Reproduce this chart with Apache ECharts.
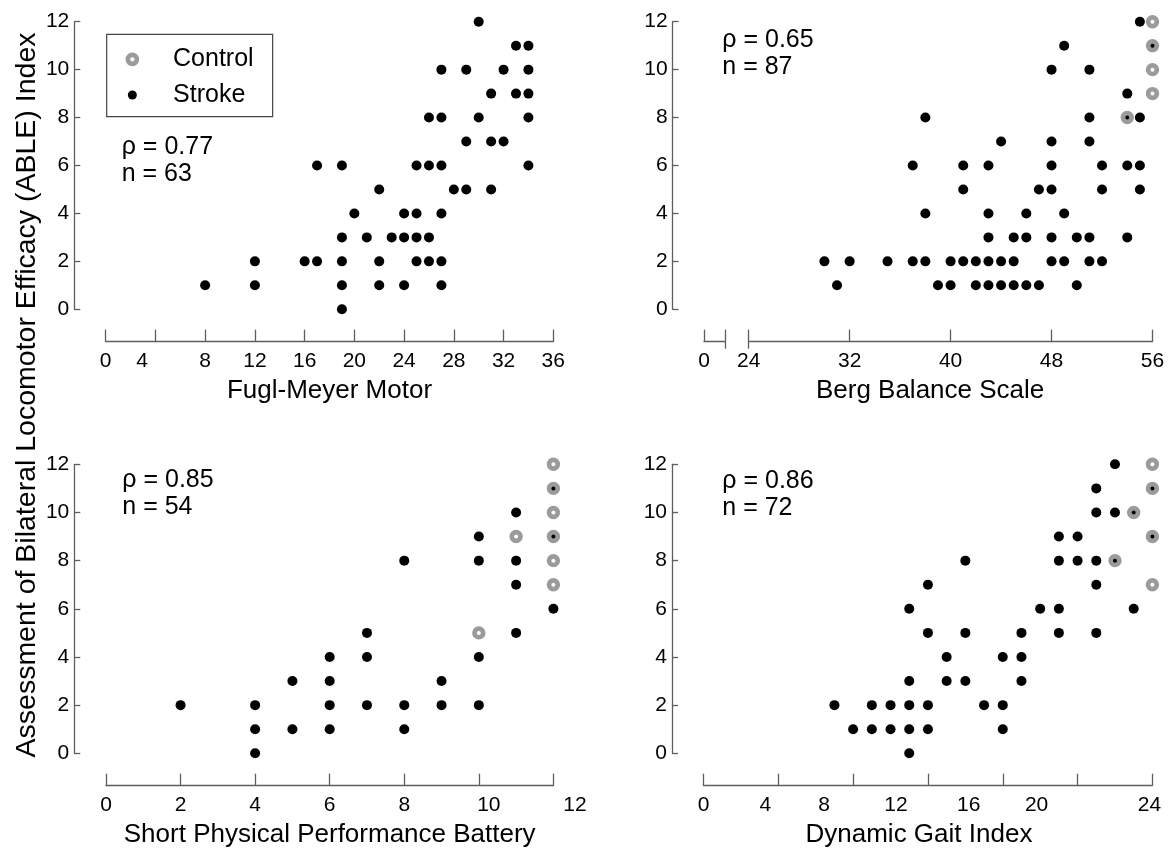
<!DOCTYPE html>
<html>
<head>
<meta charset="utf-8">
<script src="https://cdn.jsdelivr.net/npm/echarts@6/dist/echarts.min.js"></script>
<style>
html, body { margin: 0; padding: 0; background: #fff; }
#chart { width: 1171px; height: 853px; }
</style>
</head>
<body>
<div id="chart"></div>
<script>
// ---- data ----
var fuglMeyerStroke = [
    [8,1],[12,1],[12,2],[16,2],[17,2],[17,6],[19,0],[19,1],[19,2],[19,3],[19,6],[20,4],[21,3],
    [22,1],[22,2],[22,5],[23,3],[24,1],[24,3],[24,4],[25,2],[25,3],[25,4],[25,6],[26,2],[26,3],
    [26,6],[26,8],[27,1],[27,2],[27,4],[27,6],[27,8],[27,10],[28,5],[29,5],[29,7],[29,10],[30,8],
    [30,12],[31,5],[31,7],[31,9],[32,7],[32,10],[33,9],[33,11],[34,6],[34,8],[34,9],[34,10],[34,11]
];
var bergStroke = [
    [30,2],[31,1],[32,2],[35,2],[37,2],[37,6],[38,2],[38,4],[38,8],[39,1],[40,1],[40,2],
    [41,2],[41,5],[41,6],[42,1],[42,2],[43,1],[43,2],[43,3],[43,4],[43,6],[44,1],[44,2],[44,7],
    [45,1],[45,2],[45,3],[46,1],[46,3],[46,4],[47,1],[47,5],[48,2],[48,3],[48,5],[48,6],[48,7],
    [48,10],[49,2],[49,4],[49,11],[50,1],[50,3],[51,2],[51,3],[51,7],[51,8],[51,10],[52,2],[52,5],
    [52,6],[54,3],[54,6],[54,8],[54,9],[55,5],[55,6],[55,8],[55,12],[56,11]
];
var bergControl = [[54,8],[56,9],[56,10],[56,11],[56,12]];
var sppbStroke = [
    [2,2],[4,0],[4,1],[4,2],[5,1],[5,3],[6,1],[6,2],[6,3],[6,4],[7,2],[7,4],[7,5],[8,1],[8,2],[8,8],
    [9,2],[9,3],[10,2],[10,4],[10,8],[10,9],[11,5],[11,7],[11,8],[11,10],[12,6],[12,9],[12,11]
];
var sppbControl = [[10,5],[11,9],[12,7],[12,8],[12,9],[12,10],[12,11],[12,12]];
var dgiStroke = [
    [7,2],[8,1],[9,1],[9,2],[10,1],[10,2],[11,0],[11,1],[11,2],[11,3],[11,6],[12,1],[12,2],[12,5],
    [12,7],[13,3],[13,4],[14,3],[14,5],[14,8],[15,2],[16,1],[16,2],[16,4],[17,3],[17,4],[17,5],
    [18,6],[19,5],[19,6],[19,8],[19,9],[20,8],[20,9],[21,5],[21,7],[21,8],[21,10],[21,11],
    [22,8],[22,10],[22,12],[23,6],[23,10],[24,9],[24,11]
];
var dgiControl = [[22,8],[23,10],[24,7],[24,9],[24,11],[24,12]];
var rhoValues = ['0.77', '0.65', '0.85', '0.86'];
var nValues = [63, 87, 54, 72];
var axisTitles = ['Fugl-Meyer Motor', 'Berg Balance Scale', 'Short Physical Performance Battery', 'Dynamic Gait Index'];
var yTitle = 'Assessment of Bilateral Locomotor Efficacy (ABLE) Index';

// ---- styling helpers ----
var FONT = 'Liberation Sans, Arial, sans-serif';
var AXIS_GRAY = '#5e5e5e';

function shiftedLabels(shifts) {
    var rich = {};
    Object.keys(shifts).forEach(function (k) {
        var s = shifts[k];
        rich['s' + k] = {
            fontSize: 21, fontFamily: FONT, color: '#000',
            padding: s < 0 ? [0, -2 * s, 0, 0] : [0, 0, 0, 2 * s]
        };
    });
    return {
        rich: rich,
        formatter: function (v) {
            return shifts[v] !== undefined ? '{s' + v + '|' + v + '}' : String(v);
        }
    };
}

function makeX(gridIndex, min, max, interval, name, shifts, namePad) {
    var lab = shiftedLabels(shifts || {});
    return {
        type: 'value', gridIndex: gridIndex, min: min, max: max, interval: interval,
        position: 'bottom', offset: 32.4,
        name: name, nameLocation: 'middle', nameGap: 36,
        nameTextStyle: { fontSize: 26, fontFamily: FONT, color: '#000', padding: namePad || 0 },
        axisLine: { show: true, onZero: false, lineStyle: { color: AXIS_GRAY, width: 1.3 } },
        axisTick: { show: true, inside: true, length: 12, lineStyle: { color: AXIS_GRAY, width: 1.3 } },
        axisLabel: {
            fontSize: 21, fontFamily: FONT, color: '#000', margin: 9,
            showMinLabel: true, showMaxLabel: true,
            formatter: lab.formatter, rich: lab.rich
        },
        splitLine: { show: false }
    };
}

function makeY(gridIndex, offset) {
    return {
        type: 'value', gridIndex: gridIndex, min: 0, max: 12, interval: 2,
        position: 'left', offset: offset,
        axisLine: { show: true, onZero: false, lineStyle: { color: AXIS_GRAY, width: 1.3 } },
        axisTick: { show: true, inside: true, length: 6, lineStyle: { color: AXIS_GRAY, width: 1.3 } },
        axisLabel: { fontSize: 21, fontFamily: FONT, color: '#000', margin: 5, showMinLabel: true, showMaxLabel: true },
        splitLine: { show: false }
    };
}

function breakTicks(gridIndex, min, max, at) {
    return {
        type: 'value', gridIndex: gridIndex, min: min, max: max, position: 'bottom', offset: 32.4,
        axisLine: { show: false, onZero: false }, axisLabel: { show: false }, splitLine: { show: false },
        axisTick: { show: true, inside: false, length: 7, customValues: [at], lineStyle: { color: AXIS_GRAY, width: 1.3 } }
    };
}

function strokeSeries(idx, data) {
    return {
        name: 'Stroke', type: 'scatter', xAxisIndex: idx, yAxisIndex: idx, data: data,
        symbol: 'circle', symbolSize: 10, itemStyle: { color: '#000', opacity: 1 },
        silent: true, z: 2
    };
}

function controlSeries(idx, data) {
    return {
        name: 'Control', type: 'scatter', xAxisIndex: idx, yAxisIndex: idx, data: data,
        symbol: 'circle', symbolSize: 8.7,
        itemStyle: { color: 'rgba(0,0,0,0)', borderColor: '#9b9b9b', borderWidth: 4.7, opacity: 1 },
        silent: true, z: 3
    };
}

function statText(i, left, top) {
    return {
        text: '\u03c1 = ' + rhoValues[i] + '\nn = ' + nValues[i],
        left: left, top: top, padding: 0,
        textStyle: { fontSize: 25, lineHeight: 27, fontWeight: 'normal', fontFamily: FONT, color: '#000' }
    };
}

var chart = echarts.init(document.getElementById('chart'), null, { renderer: 'canvas' });

var stubAxis = makeX(4, 0, 1, 1, '', {});
stubAxis.axisLabel.formatter = function (v) { return v === 0 ? '0' : ''; };

var option = {
    animation: false,
    backgroundColor: '#fff',
    grid: [
        { left: 105.7, top: 21.7, width: 447.6, height: 287.6 },
        { left: 748.7, top: 21.7, width: 403.8, height: 287.6 },
        { left: 106, top: 464.3, width: 447.4, height: 289 },
        { left: 703.5, top: 464.3, width: 448.9, height: 289 },
        { left: 704, top: 21.7, width: 21, height: 287.6 }
    ],
    xAxis: [
        makeX(0, 0, 36, 4, axisTitles[0], { 4: -13.3 }),
        makeX(1, 24, 56, 8, axisTitles[1], {}, [0, 41, 0, 0]),
        makeX(2, 0, 12, 2, axisTitles[2], { 10: 10, 12: 21.6 }),
        makeX(3, 0, 24, 4, axisTitles[3], { 4: -13, 8: -29, 12: -32, 16: -34, 20: -41, 24: -3 }, [0, 18, 0, 0]),
        stubAxis,
        breakTicks(4, 0, 1, 1),
        breakTicks(1, 24, 56, 24)
    ],
    yAxis: [
        makeY(0, 31.4),
        makeY(1, 76.1),
        makeY(2, 31.7),
        makeY(3, 31.5),
        { type: 'value', gridIndex: 4, min: 0, max: 12, show: false }
    ],
    legend: {
        orient: 'vertical', left: 106.7, top: 34.3,
        padding: [12, 19, 8.7, 18.8],
        itemWidth: 9, itemHeight: 9, itemGap: 9.7,
        icon: 'circle',
        borderColor: '#444', borderWidth: 1.2, borderRadius: 0,
        textStyle: { fontSize: 25, lineHeight: 26, fontFamily: FONT, color: '#000', padding: [0, 0, 0, 31.2] },
        data: [
            { name: 'Control', itemStyle: { color: 'rgba(0,0,0,0)', borderColor: '#9b9b9b', borderWidth: 4.7, opacity: 1 } },
            { name: 'Stroke', itemStyle: { color: '#000', borderWidth: 0, opacity: 1 } }
        ],
        selectedMode: false
    },
    title: [
        statText(0, 121.7, 134),
        statText(1, 722.3, 26.7),
        statText(2, 122.3, 466.7),
        statText(3, 722.3, 467.7)
    ],
    graphic: [{
        type: 'text', x: 27, y: 395, rotation: Math.PI / 2,
        style: { text: yTitle, fontSize: 28.5, fontFamily: FONT, fill: '#000', align: 'center', verticalAlign: 'middle' }
    }],
    series: [
        strokeSeries(0, fuglMeyerStroke),
        strokeSeries(1, bergStroke),
        controlSeries(1, bergControl),
        strokeSeries(2, sppbStroke),
        controlSeries(2, sppbControl),
        strokeSeries(3, dgiStroke),
        controlSeries(3, dgiControl)
    ]
};

chart.setOption(option);
</script>
</body>
</html>
